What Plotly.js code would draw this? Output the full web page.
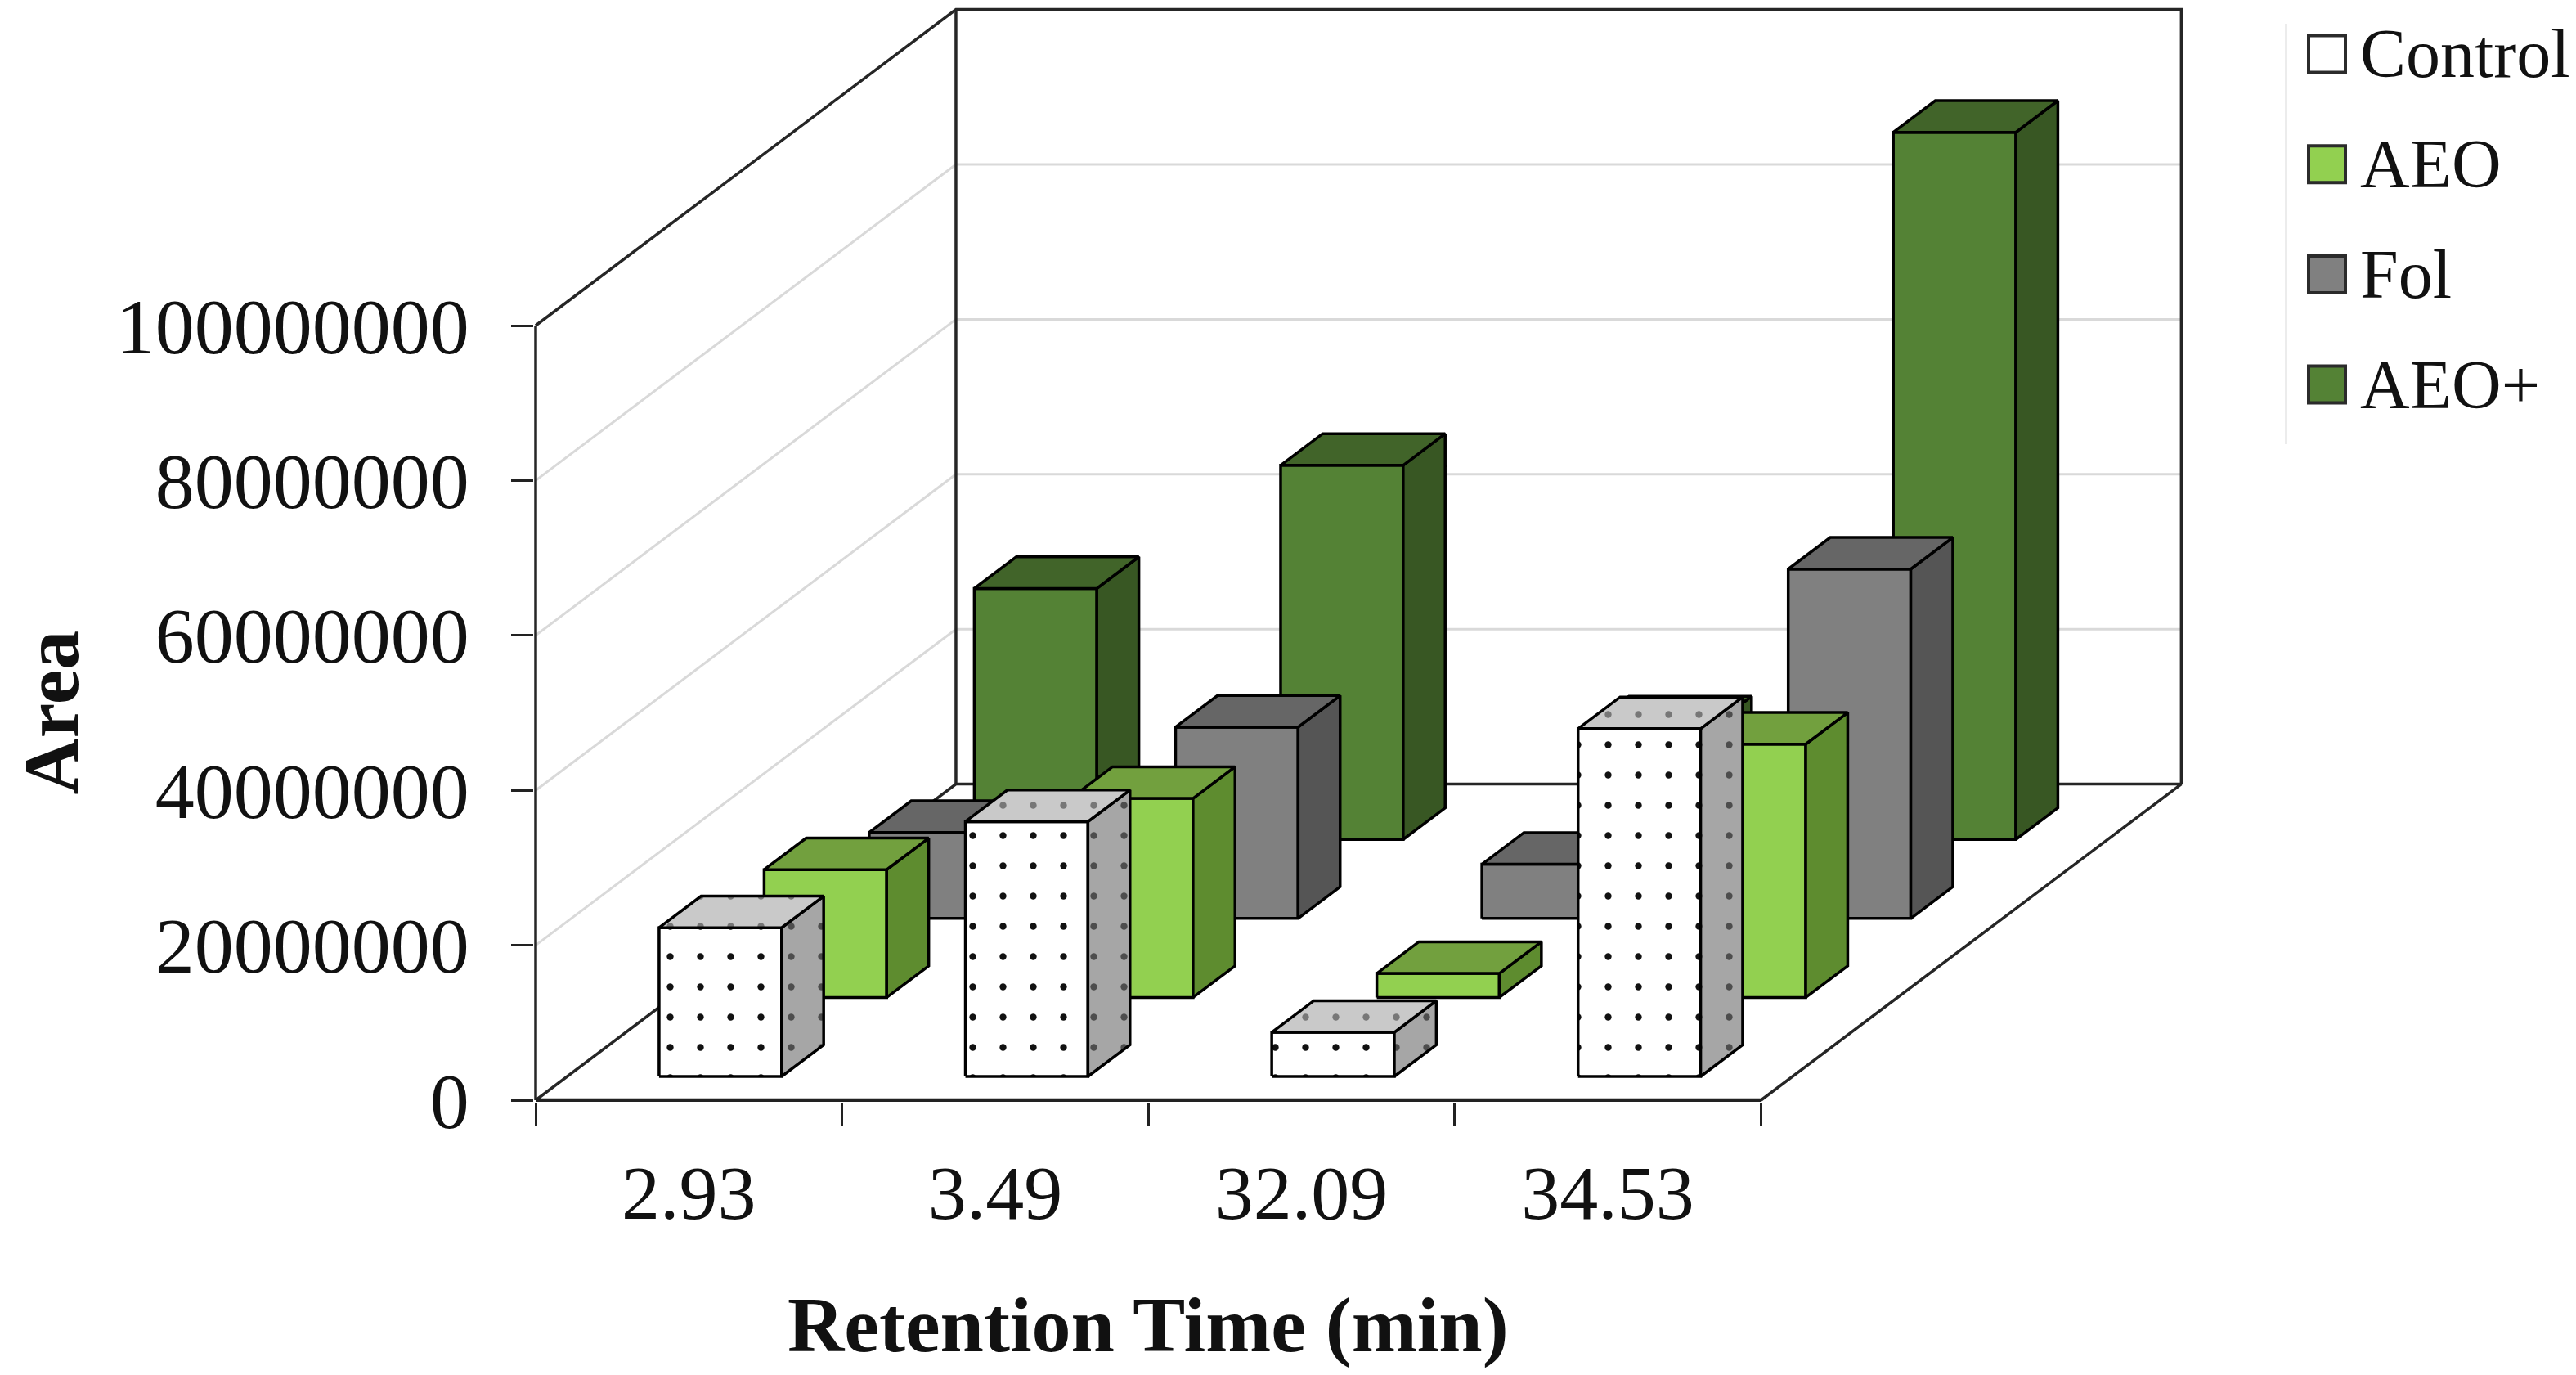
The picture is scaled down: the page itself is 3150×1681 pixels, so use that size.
<!DOCTYPE html>
<html>
<head>
<meta charset="utf-8">
<script src="https://cdn.plot.ly/plotly-3.0.1.min.js"></script>
<style>
    html, body { margin: 0; padding: 0; background: #fff; }
    #chart { width: 3150px; height: 1681px; }
</style>
</head>
<body>
<div id="chart"></div>
<script>
/* Peak area vs retention time, drawn as an Excel style 3D column chart */

// ---- data ----
const categories = ['2.93', '3.49', '32.09', '34.53'];
const seriesNames = ['Control', 'AEO', 'Fol', 'AEO+'];
const controlArea = [19.2e6, 32.9e6, 5.7e6, 44.9e6];
const aeoArea = [16.5e6, 25.7e6, 3.1e6, 32.7e6];
const folArea = [11.1e6, 24.7e6, 7.0e6, 45.1e6];
const aeoPlusArea = [32.4e6, 48.3e6, 14.4e6, 91.3e6];
const yTicks = [0, 20e6, 40e6, 60e6, 80e6, 100e6];

const seriesValues = [controlArea, aeoArea, folArea, aeoPlusArea];

// ---- look ----
const FONT = 'Liberation Serif, Times New Roman, serif';
const faceStyles = [
    {front: '#ffffff', side: '#a6a6a6', top: '#c9c9c9', dots: true},
    {front: '#92d050', side: '#5e8c2f', top: '#72a03e'},
    {front: '#808080', side: '#555555', top: '#666666'},
    {front: '#548235', side: '#385723', top: '#416429'}
];
const EDGE = '#262626';
const GRID = '#d9d9d9';

// oblique projection: every series row moves the bar up and right
const ROW_DX = 0.343;    // category units per row
const ROW_DY = 10.2e6;   // value units per row
const BAR_W = 0.4;       // of a category
const BAR_GAP = 0.3;
const BAR_DEPTH = 0.4;   // of a row
const DEPTH_GAP = 0.3;

// pixel frame of the plot area (x = 0 / y = 0 at the front left corner)
const PX_CAT = 374.6;
const PX_VAL = 9.47e-6;
const plotL = 653, plotR = 2680, plotT = 4, plotB = 1347;
const originX = 655, originY = 1345;

const nCat = categories.length;
const nRow = seriesNames.length;
const depthX = nRow * ROW_DX;
const depthY = nRow * ROW_DY;
const yTop = yTicks[yTicks.length - 1];

function addPoly(target, xs, ys) {
    if (target.x.length) {
        target.x.push(null);
        target.y.push(null);
    }
    target.x.push(...xs);
    target.y.push(...ys);
}

function faceTrace(poly, color, dots) {
    let t = {
        x: poly.x, y: poly.y,
        type: 'scatter', mode: 'lines',
        fill: 'toself', fillcolor: color,
        line: {color: '#000', width: 3.5},
        hoverinfo: 'skip', showlegend: false
    };
    if (dots) {
        t.fillpattern = {shape: '.', bgcolor: color, fgcolor: dots, size: 37, solidity: 0.04};
    }
    return t;
}

function lineTrace(poly, color, width, xaxis) {
    return {
        x: poly.x, y: poly.y,
        xaxis: xaxis || 'x',
        type: 'scatter', mode: 'lines',
        line: {color: color, width: width},
        hoverinfo: 'skip', showlegend: false
    };
}

let traces = [];

// walls and floor
let leftGrid = {x: [], y: []};
let backGrid = {x: [], y: []};
yTicks.slice(1, -1).forEach(t => {
    addPoly(leftGrid, [0, depthX], [t, t + depthY]);
    addPoly(backGrid, [depthX, nCat + depthX], [t + depthY, t + depthY]);
});
traces.push(lineTrace(leftGrid, GRID, 3));
traces.push(lineTrace(backGrid, GRID, 3));

let edges = {x: [], y: []};
addPoly(edges, [0, depthX, nCat + depthX, nCat + depthX],
    [yTop, yTop + depthY, yTop + depthY, depthY]);
addPoly(edges, [depthX, depthX], [depthY, yTop + depthY]);
addPoly(edges, [0, depthX, nCat + depthX, nCat], [0, depthY, depthY, 0]);
addPoly(edges, [0, 0], [0, yTop]);
traces.push(lineTrace(edges, EDGE, 3.5));

// columns, back row first so the front rows cover them
for (let row = nRow - 1; row >= 0; row--) {
    let front = {x: [], y: []}, side = {x: [], y: []}, top = {x: [], y: []};
    const s = row + DEPTH_GAP;
    const dx = BAR_DEPTH * ROW_DX, dy = BAR_DEPTH * ROW_DY;
    seriesValues[row].forEach((v, c) => {
        const xl = c + BAR_GAP + s * ROW_DX, xr = xl + BAR_W;
        const yb = s * ROW_DY, yt = yb + v;
        addPoly(front, [xl, xr, xr, xl, xl], [yb, yb, yt, yt, yb]);
        addPoly(side, [xr, xr + dx, xr + dx, xr, xr], [yb, yb + dy, yt + dy, yt, yb]);
        addPoly(top, [xl, xr, xr + dx, xl + dx, xl], [yt, yt, yt + dy, yt + dy, yt]);
    });
    const st = faceStyles[row];
    traces.push(faceTrace(front, st.front, st.dots ? '#111111' : null));
    traces.push(faceTrace(side, st.side, st.dots ? '#4d4d4d' : null));
    traces.push(faceTrace(top, st.top, st.dots ? '#777777' : null));
}

// front edge of the floor, on the second x axis that carries the boundary ticks
let frontEdge = {x: [0, nCat], y: [0, 0]};
traces.push(lineTrace(frontEdge, '#222222', 4.5, 'x2'));

// ---- layout ----
const xRange = [-(originX - plotL) / PX_CAT, (plotR - originX) / PX_CAT];
const yRange = [-(plotB - originY) / PX_VAL, (originY - plotT) / PX_VAL];
const W = 3150, H = 1681;

function paperX(px) { return (px - plotL) / (plotR - plotL); }
function paperY(py) { return (plotB - py) / (plotB - plotT); }

let shapes = [];
let annotations = [];

// legend, drawn by hand so the keys keep the large size of the original
const legendTop = 66, legendStep = 134.7, keySize = 45, keyLeft = 2823;
shapes.push({
    type: 'line', xref: 'paper', yref: 'paper',
    x0: paperX(2795), x1: paperX(2795), y0: paperY(29), y1: paperY(543),
    line: {color: '#ececec', width: 2}
});
seriesNames.forEach((name, i) => {
    const cy = legendTop + i * legendStep;
    shapes.push({
        type: 'rect', xref: 'paper', yref: 'paper',
        x0: paperX(keyLeft), x1: paperX(keyLeft + keySize),
        y0: paperY(cy - keySize / 2), y1: paperY(cy + keySize / 2),
        fillcolor: faceStyles[i].front,
        line: {color: '#2b2b2b', width: 4}
    });
    annotations.push({
        xref: 'paper', yref: 'paper',
        x: paperX(2884), y: paperY(cy),
        xanchor: 'left', yanchor: 'middle',
        text: name, showarrow: false,
        font: {family: FONT, size: 84, color: '#111'}
    });
});

// axis titles
annotations.push({
    xref: 'x', yref: 'y', x: 0, y: (yTicks[0] + yTop) / 2,
    xshift: -(originX - 62), textangle: -90,
    xanchor: 'center', yanchor: 'middle', borderpad: 0,
    text: '<b>Area</b>', showarrow: false,
    font: {family: FONT, size: 96, color: '#111'}
});
annotations.push({
    xref: 'x', yref: 'y', x: nCat / 2, y: 0,
    yshift: -274, xanchor: 'center', yanchor: 'middle',
    text: '<b>Retention Time (min)</b>', showarrow: false,
    font: {family: FONT, size: 96, color: '#111'}
});

const layout = {
    width: W, height: H,
    margin: {l: plotL, r: W - plotR, t: plotT, b: H - plotB, pad: 0},
    paper_bgcolor: '#fff', plot_bgcolor: 'rgba(0,0,0,0)',
    showlegend: false,
    xaxis: {
        range: xRange, showgrid: false, zeroline: false, showline: false,
        tickvals: categories.map((c, i) => i + 0.5), ticktext: categories,
        ticks: '', ticklabelstandoff: 48,
        tickfont: {family: FONT, size: 94, color: '#111'}
    },
    xaxis2: {
        overlaying: 'x', anchor: 'y', side: 'bottom',
        range: xRange, showgrid: false, zeroline: false, showline: false,
        tickvals: categories.map((c, i) => i).concat([nCat]),
        showticklabels: false,
        ticks: 'outside', ticklen: 28, tickwidth: 3, tickcolor: '#222222'
    },
    yaxis: {
        range: yRange, showgrid: false, zeroline: false, showline: false,
        tickvals: yTicks, ticktext: yTicks.map(v => String(v)),
        ticks: 'outside', ticklen: 27, tickwidth: 3, tickcolor: '#222222',
        ticklabelstandoff: 32,
        tickfont: {family: FONT, size: 96, color: '#111'}
    },
    shapes: shapes,
    annotations: annotations
};

Plotly.newPlot('chart', traces, layout, {displayModeBar: false, staticPlot: true});
</script>
</body>
</html>
